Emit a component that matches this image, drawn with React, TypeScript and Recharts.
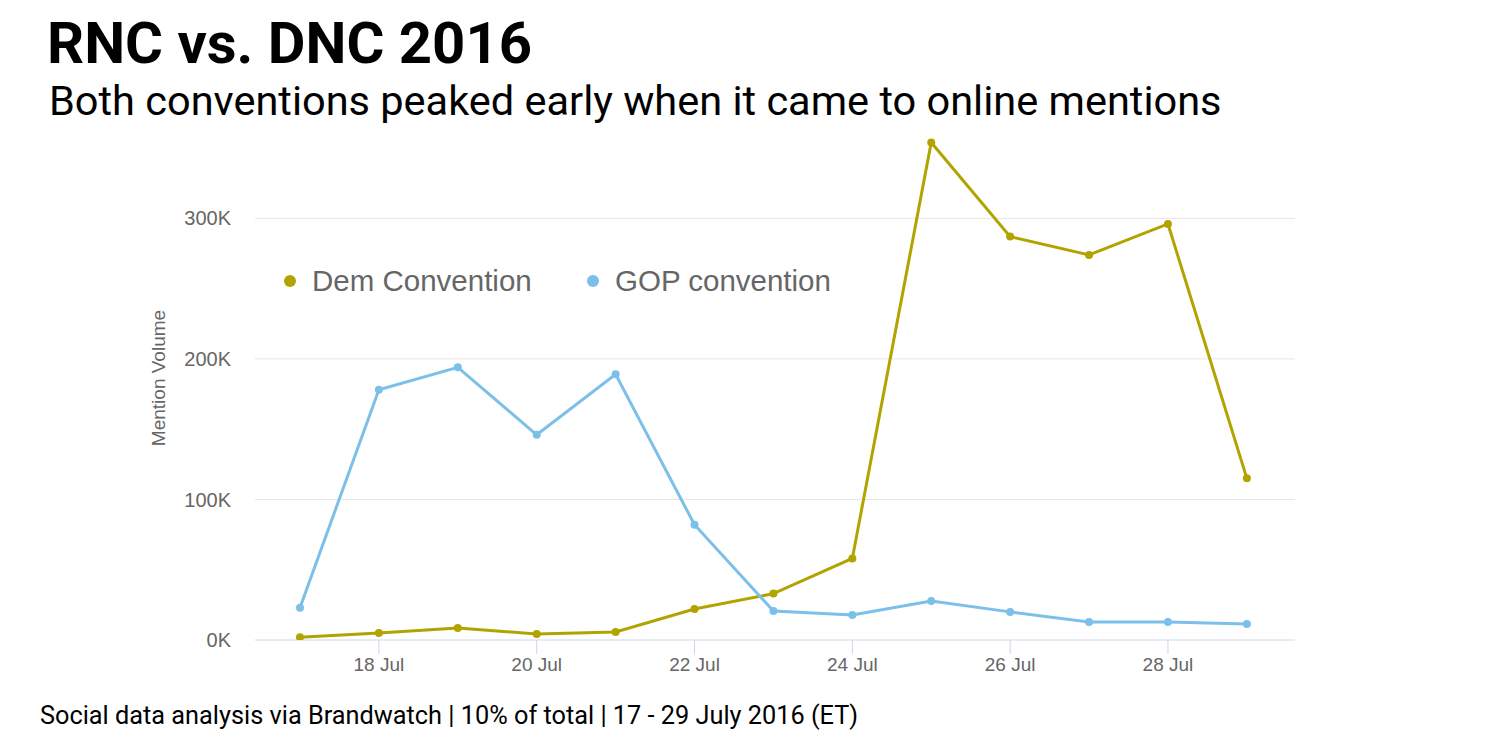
import { LineChart, Line, XAxis, YAxis, ReferenceLine } from "recharts";

const days = [17, 18, 19, 20, 21, 22, 23, 24, 25, 26, 27, 28, 29];
const demConvention = [2000, 5000, 8500, 4300, 5700, 22000, 33000, 58000, 354000, 287000, 274000, 296000, 115000];
const gopConvention = [23000, 178000, 194000, 146000, 189000, 82000, 20600, 17800, 27800, 20000, 12800, 12800, 11400];
const xTicks = [18, 20, 22, 24, 26, 28];
const yTicks = [0, 100000, 200000, 300000];

const DEM_COLOR = "#b2a400";
const GOP_COLOR = "#7cc0ea";
const AXIS_FONT = "'Liberation Sans', Arial, sans-serif";

const data = days.map((d, i) => ({
  day: d,
  dem: demConvention[i],
  gop: gopConvention[i],
}));

const series = [
  { key: "dem", name: "Dem Convention", color: DEM_COLOR, left: 284 },
  { key: "gop", name: "GOP convention", color: GOP_COLOR, left: 587 },
];

function YLabel(props: any) {
  const vb = props.viewBox || { y: 134, height: 506 };
  const cx = 158;
  const cy = vb.y + vb.height / 2 - 9;
  return (
    <text
      x={cx}
      y={cy}
      transform={`rotate(-90 ${cx} ${cy})`}
      textAnchor="middle"
      dominantBaseline="central"
      fill="#666"
      fontSize={19}
      fontFamily={AXIS_FONT}
    >
      Mention Volume
    </text>
  );
}

export default function App() {
  return (
    <div style={{ position: "absolute", left: 0, top: 0, width: 1495, height: 750, background: "#fff" }}>
      <div
        style={{
          position: "absolute",
          left: 47,
          top: 9,
          fontFamily: "Roboto, sans-serif",
          fontWeight: 700,
          fontSize: 58,
          color: "#000",
          whiteSpace: "nowrap",
        }}
      >
        RNC vs. DNC 2016
      </div>
      <div
        style={{
          position: "absolute",
          left: 49,
          top: 76,
          fontFamily: "Roboto, sans-serif",
          fontSize: 41.5,
          color: "#000",
          whiteSpace: "nowrap",
        }}
      >
        Both conventions peaked early when it came to online mentions
      </div>
      <div style={{ position: "absolute", left: 0, top: 0 }}>
        <LineChart
          width={1495}
          height={750}
          data={data}
          margin={{ top: 134, right: 200, bottom: 80, left: 195 }}
        >
          {yTicks.slice(1).map((t) => (
            <ReferenceLine key={t} y={t} stroke="#e6e6e6" strokeWidth={1} />
          ))}
          <XAxis
            dataKey="day"
            type="number"
            domain={[16.43, 29.61]}
            ticks={xTicks}
            allowDataOverflow
            tickFormatter={(d: number) => `${d} Jul`}
            height={30}
            stroke="#ccd6eb"
            tickSize={14}
            tickMargin={4}
            tick={{ fill: "#666", fontSize: 19, fontFamily: AXIS_FONT }}
          />
          <YAxis
            domain={[0, 360000]}
            ticks={yTicks}
            allowDataOverflow
            width={60}
            axisLine={false}
            tickLine={false}
            tickMargin={18}
            tickFormatter={(v: number) => `${v / 1000}K`}
            tick={{ fill: "#666", fontSize: 20, fontFamily: AXIS_FONT }}
            label={{ content: (p: any) => <YLabel {...p} /> }}
          />
          {series.map((s) => (
            <Line
              key={s.key}
              type="linear"
              dataKey={s.key}
              name={s.name}
              stroke={s.color}
              strokeWidth={3}
              dot={{ r: 4, fill: s.color, stroke: s.color, strokeWidth: 0 }}
              activeDot={false}
              isAnimationActive={false}
            />
          ))}
        </LineChart>
      </div>
      {series.map((s) => (
        <div
          key={s.key}
          style={{
            position: "absolute",
            left: s.left,
            top: 264,
            display: "flex",
            alignItems: "center",
            fontFamily: AXIS_FONT,
            fontSize: 29.5,
            color: "#666",
            whiteSpace: "nowrap",
          }}
        >
          <span
            style={{
              width: 12,
              height: 12,
              borderRadius: 6,
              background: s.color,
              marginRight: 16,
              display: "inline-block",
            }}
          />
          {s.name}
        </div>
      ))}
      <div
        style={{
          position: "absolute",
          left: 40,
          top: 701,
          fontFamily: "Roboto, sans-serif",
          fontSize: 25.3,
          color: "#000",
          whiteSpace: "nowrap",
        }}
      >
        Social data analysis via Brandwatch | 10% of total | 17 - 29 July 2016 (ET)
      </div>
    </div>
  );
}
